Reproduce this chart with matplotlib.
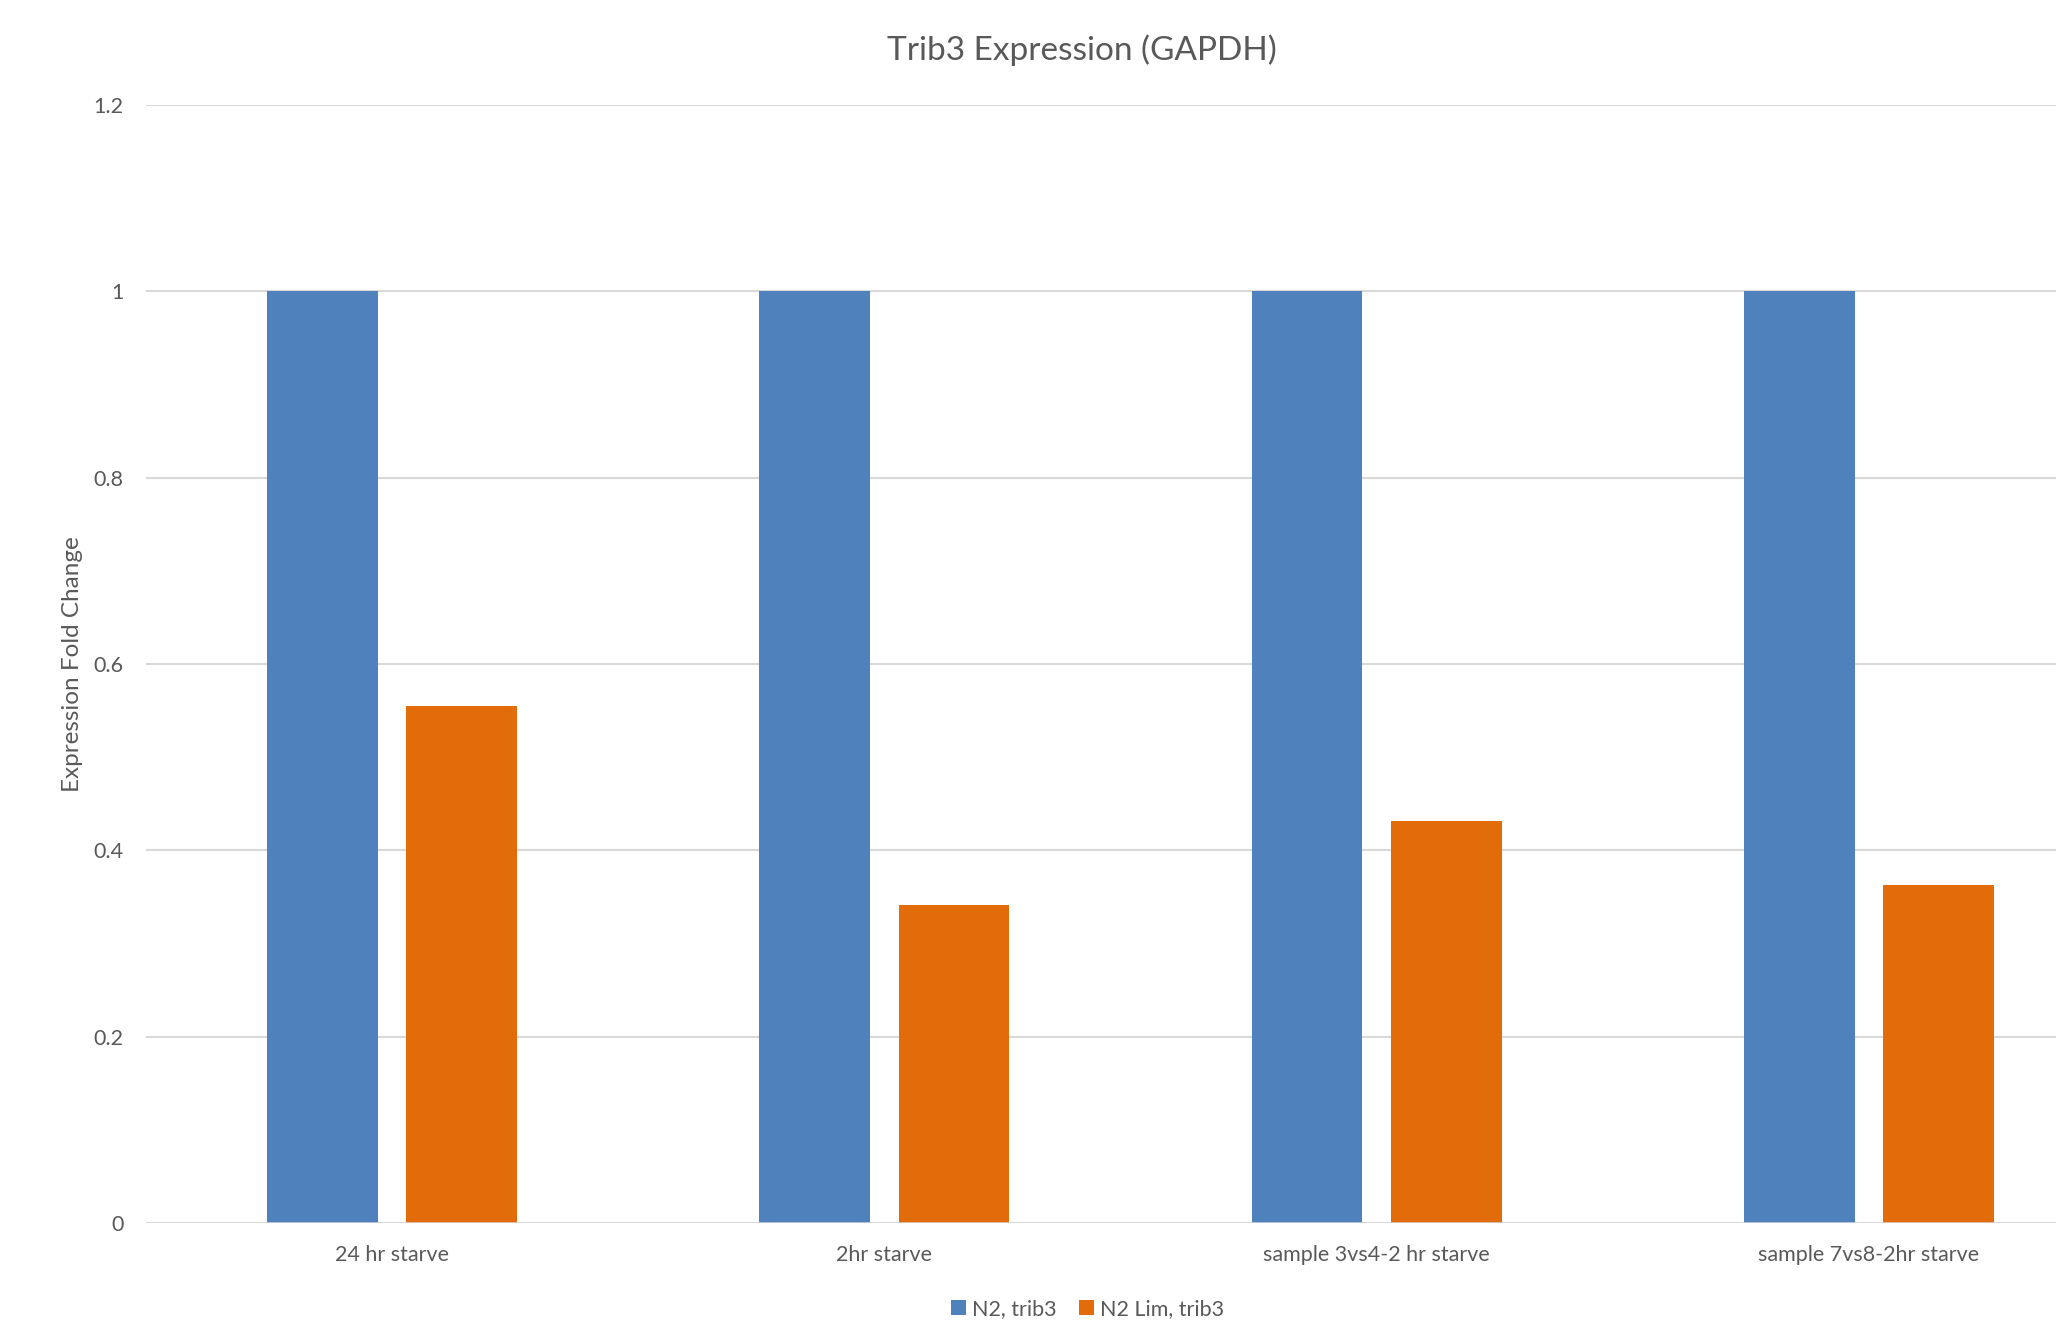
import numpy as np
import matplotlib
matplotlib.use("Agg")
import matplotlib.pyplot as plt

plt.rcParams['font.family'] = ['Lato', 'DejaVu Sans']

categories = ["24 hr starve", "2hr starve", "sample 3vs4-2 hr starve", "sample 7vs8-2hr starve"]
n2_trib3 = [1.0, 1.0, 1.0, 1.0]
n2_lim_trib3 = [0.555, 0.341, 0.432, 0.363]
series_names = ["N2, trib3", "N2 Lim, trib3"]

blue = "#4F81BD"
orange = "#E36C0A"
text_col = "#595959"
grid_col = "#D9D9D9"

fig = plt.figure(figsize=(20.56, 13.28), dpi=100)
ax = fig.add_axes([0.071, 0.079, 0.929, 0.842])

x = np.arange(len(categories))
w = 0.225
off = 0.1415
ax.bar(x - off, n2_trib3, w, color=blue, label=series_names[0], zorder=3)
ax.bar(x + off, n2_lim_trib3, w, color=orange, label=series_names[1], zorder=3)

ax.set_xlim(-0.5, 3.38)
ax.set_ylim(0, 1.2)
ax.set_yticks([0, 0.2, 0.4, 0.6, 0.8, 1, 1.2])
ax.set_yticklabels(["0", "0.2", "0.4", "0.6", "0.8", "1", "1.2"])
ax.set_xticks(x)
ax.set_xticklabels(categories, fontsize=15.5)
ax.yaxis.grid(True, color=grid_col, linewidth=1.5, zorder=0)
ax.tick_params(axis='both', length=0, colors=text_col, labelsize=15.5)
ax.tick_params(axis='x', pad=16)
ax.tick_params(axis='y', pad=16)
for s in ax.spines.values():
    s.set_visible(False)
ax.axhline(0, color=grid_col, linewidth=1.8, zorder=4)

# y label placed in axes coords so it sits where the reference has it
ax.set_ylabel("Expression Fold Change", fontsize=17.5, color=text_col)
ax.yaxis.set_label_coords(-0.033, 0.5)
fig.text(0.526, 0.962, "Trib3 Expression (GAPDH)", fontsize=24, color=text_col,
         ha='center', va='center')

fig.legend(loc='lower center', bbox_to_anchor=(0.529, -0.008), ncol=2, frameon=False,
           fontsize=15.5, labelcolor=text_col, handlelength=0.7, handleheight=0.7,
           handletextpad=0.3, columnspacing=1.0)

fig.savefig("out.png", dpi=100, facecolor="white")
